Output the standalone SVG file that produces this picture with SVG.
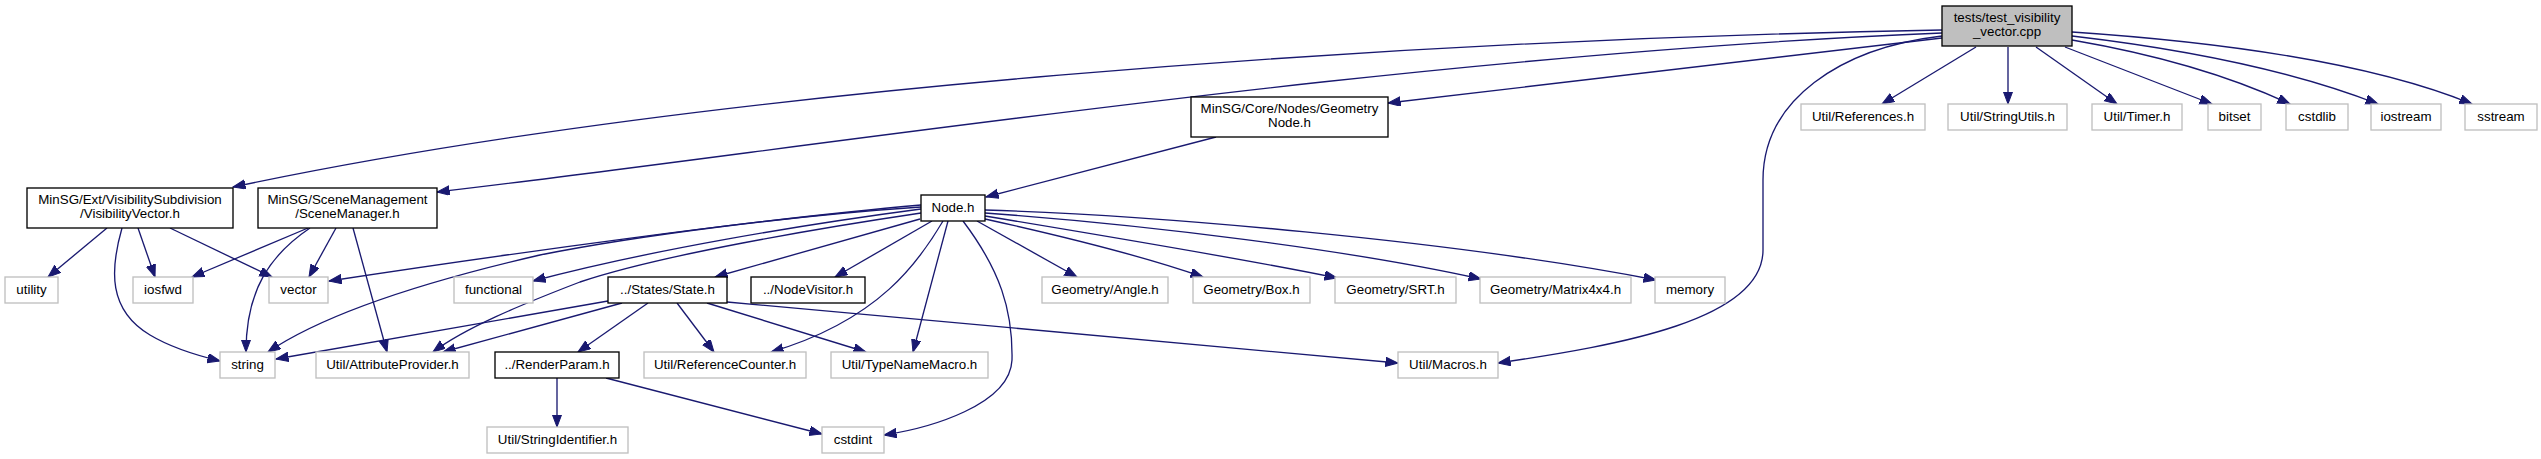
<svg xmlns="http://www.w3.org/2000/svg" width="2541" height="459" viewBox="0 0 2541 459">
<style>
text{font-family:"Liberation Sans",Arial,Helvetica,sans-serif;font-size:13.33px;fill:#000;text-anchor:middle}
.n{fill:#fff;stroke:#000;stroke-width:1.33}
.g{fill:#fff;stroke:#bfbfbf;stroke-width:1.33}
.r{fill:#bfbfbf;stroke:#000;stroke-width:1.33}
#edges path{fill:none;stroke:#191970;stroke-width:1.33;marker-end:url(#a)}
</style>
<defs>
<marker id="a" markerWidth="14" markerHeight="11" refX="12.5" refY="4.7" orient="auto" markerUnits="userSpaceOnUse">
<path d="M0,0 L12.5,4.7 L0,9.4 z" fill="#191970" stroke="#191970" stroke-width="1"/>
</marker>
</defs>
<rect width="2541" height="459" fill="#fff"/>
<g id="edges">
<path d="M1942,30 C1400,40 700,88 233,187"/>
<path d="M1942,33 C1400,55 800,150 437,192"/>
<path d="M1942,38 L1388,103"/>
<path d="M1942,36 C1840,48 1763,100 1763,180 L1763,250 C1763,320 1620,345 1498,363"/>
<path d="M1976,47 L1882,104"/>
<path d="M2008,47 L2008,104"/>
<path d="M2036,47 L2117,104"/>
<path d="M2065,47 L2212,104"/>
<path d="M2072,40 Q2200,62 2290,104"/>
<path d="M2072,36 Q2260,58 2378,104"/>
<path d="M2072,32 Q2340,50 2472,104"/>
<path d="M1216,137 L986,197"/>
<path d="M107,228 L48,277"/>
<path d="M122,228 C110,270 108,310 150,335 C170,347 195,355 220,361"/>
<path d="M138,228 L155,277"/>
<path d="M170,228 L272,277"/>
<path d="M308,228 L192,277"/>
<path d="M336,228 L309,277"/>
<path d="M310,228 C270,255 246,290 246,352"/>
<path d="M353,228 L387,352"/>
<path d="M921,205 C750,220 500,255 329,281"/>
<path d="M921,209 C800,225 650,250 533,281"/>
<path d="M921,207 C800,215 640,235 540,255 C440,278 330,310 268,352"/>
<path d="M921,213 C820,228 660,255 580,282 C520,305 465,328 433,352"/>
<path d="M920,219 L715,277"/>
<path d="M932,221 L835,277"/>
<path d="M943,221 C920,260 880,320 771,352"/>
<path d="M948,221 L913,352"/>
<path d="M963,221 C1000,270 1013,310 1012,360 C1010,405 930,428 884,435"/>
<path d="M977,221 L1077,277"/>
<path d="M985,219 C1080,240 1160,262 1203,277"/>
<path d="M985,216 C1100,235 1250,260 1337,278"/>
<path d="M985,213 C1150,225 1350,250 1481,279"/>
<path d="M985,210 C1150,215 1450,240 1656,280"/>
<path d="M608,301 L276,359"/>
<path d="M622,303 L443,352"/>
<path d="M648,303 L578,352"/>
<path d="M677,303 L714,352"/>
<path d="M707,303 L866,352"/>
<path d="M727,302 L1398,363"/>
<path d="M557,378 L557,427"/>
<path d="M606,378 L822,434"/>
</g>
<g id="n_tests"><rect class="r" x="1942" y="6" width="130" height="40"/><text x="2007" y="22.3">tests/test_visibility</text><text x="2007" y="36.3">_vector.cpp</text></g>
<g id="n_geomnode"><rect class="n" x="1191" y="97" width="197" height="40"/><text x="1289.5" y="113.3">MinSG/Core/Nodes/Geometry</text><text x="1289.5" y="127.3">Node.h</text></g>
<g id="n_references"><rect class="g" x="1801" y="104" width="124" height="26"/><text x="1863" y="121">Util/References.h</text></g>
<g id="n_stringutils"><rect class="g" x="1948" y="104" width="119" height="26"/><text x="2007.5" y="121">Util/StringUtils.h</text></g>
<g id="n_timer"><rect class="g" x="2092" y="104" width="90" height="26"/><text x="2137" y="121">Util/Timer.h</text></g>
<g id="n_bitset"><rect class="g" x="2208" y="104" width="53" height="26"/><text x="2234.5" y="121">bitset</text></g>
<g id="n_cstdlib"><rect class="g" x="2286" y="104" width="62" height="26"/><text x="2317" y="121">cstdlib</text></g>
<g id="n_iostream"><rect class="g" x="2371" y="104" width="70" height="26"/><text x="2406" y="121">iostream</text></g>
<g id="n_sstream"><rect class="g" x="2465" y="104" width="72" height="26"/><text x="2501" y="121">sstream</text></g>
<g id="n_visvec"><rect class="n" x="27" y="188" width="206" height="40"/><text x="130" y="204.3">MinSG/Ext/VisibilitySubdivision</text><text x="130" y="218.3">/VisibilityVector.h</text></g>
<g id="n_scenemgr"><rect class="n" x="258" y="188" width="179" height="40"/><text x="347.5" y="204.3">MinSG/SceneManagement</text><text x="347.5" y="218.3">/SceneManager.h</text></g>
<g id="n_node"><rect class="n" x="921" y="195" width="64" height="26"/><text x="953" y="212">Node.h</text></g>
<g id="n_utility"><rect class="g" x="5" y="277" width="53" height="26"/><text x="31.5" y="294">utility</text></g>
<g id="n_iosfwd"><rect class="g" x="133" y="277" width="60" height="26"/><text x="163" y="294">iosfwd</text></g>
<g id="n_vector"><rect class="g" x="269" y="277" width="59" height="26"/><text x="298.5" y="294">vector</text></g>
<g id="n_functional"><rect class="g" x="454" y="277" width="79" height="26"/><text x="493.5" y="294">functional</text></g>
<g id="n_state"><rect class="n" x="608" y="277" width="119" height="26"/><text x="667.5" y="294">../States/State.h</text></g>
<g id="n_nodevisitor"><rect class="n" x="751" y="277" width="114" height="26"/><text x="808" y="294">../NodeVisitor.h</text></g>
<g id="n_angle"><rect class="g" x="1042" y="277" width="126" height="26"/><text x="1105" y="294">Geometry/Angle.h</text></g>
<g id="n_box"><rect class="g" x="1193" y="277" width="117" height="26"/><text x="1251.5" y="294">Geometry/Box.h</text></g>
<g id="n_srt"><rect class="g" x="1335" y="277" width="121" height="26"/><text x="1395.5" y="294">Geometry/SRT.h</text></g>
<g id="n_matrix"><rect class="g" x="1480" y="277" width="151" height="26"/><text x="1555.5" y="294">Geometry/Matrix4x4.h</text></g>
<g id="n_memory"><rect class="g" x="1655" y="277" width="70" height="26"/><text x="1690" y="294">memory</text></g>
<g id="n_string"><rect class="g" x="220" y="352" width="55" height="26"/><text x="247.5" y="369">string</text></g>
<g id="n_attrprov"><rect class="g" x="316" y="352" width="153" height="26"/><text x="392.5" y="369">Util/AttributeProvider.h</text></g>
<g id="n_renderparam"><rect class="n" x="495" y="352" width="124" height="26"/><text x="557" y="369">../RenderParam.h</text></g>
<g id="n_refcounter"><rect class="g" x="644" y="352" width="162" height="26"/><text x="725" y="369">Util/ReferenceCounter.h</text></g>
<g id="n_typename"><rect class="g" x="831" y="352" width="157" height="26"/><text x="909.5" y="369">Util/TypeNameMacro.h</text></g>
<g id="n_macros"><rect class="g" x="1398" y="352" width="100" height="26"/><text x="1448" y="369">Util/Macros.h</text></g>
<g id="n_stringid"><rect class="g" x="487" y="427" width="141" height="26"/><text x="557.5" y="444">Util/StringIdentifier.h</text></g>
<g id="n_cstdint"><rect class="g" x="822" y="427" width="62" height="26"/><text x="853" y="444">cstdint</text></g>
</svg>
